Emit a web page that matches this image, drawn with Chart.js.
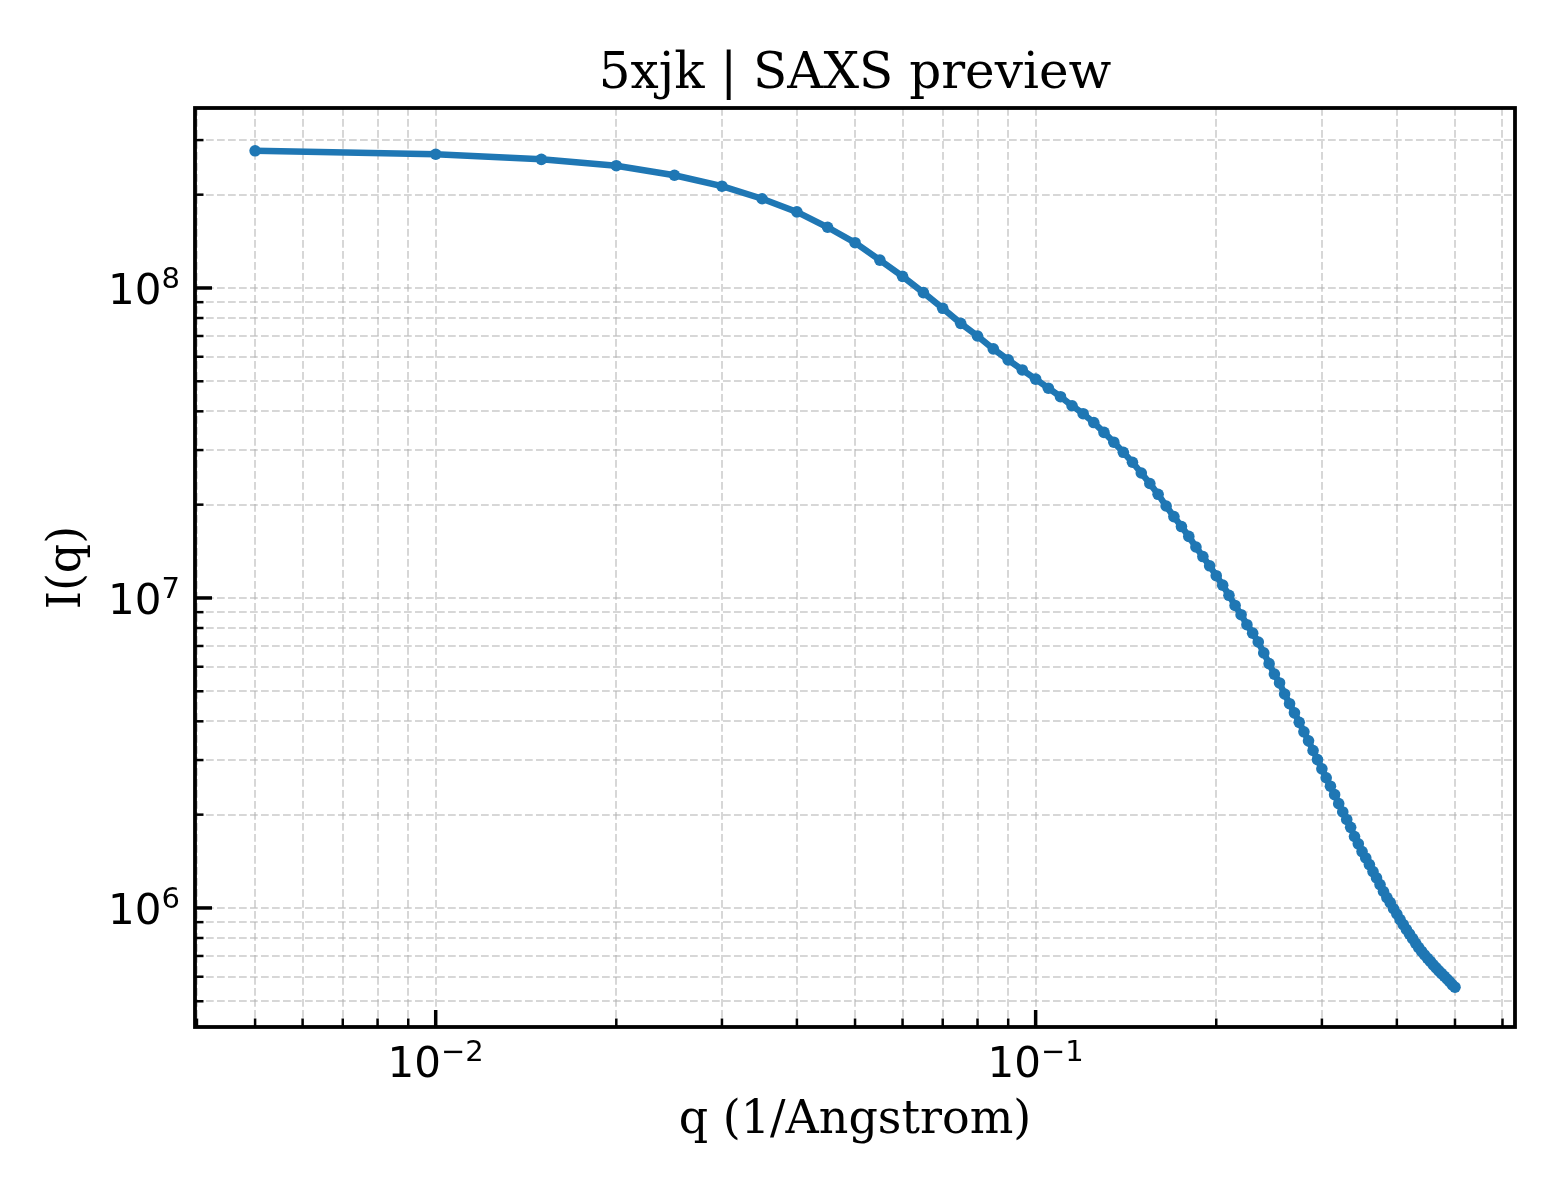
<!DOCTYPE html>
<html>
<head>
<meta charset="utf-8">
<script src="https://cdn.jsdelivr.net/npm/chart.js@4.4.0/dist/chart.umd.min.js"></script>
<style>
  html, body { margin: 0; padding: 0; background: #fff; }
  #wrap { width: 1560px; height: 1200px; }
</style>
</head>
<body>
<div id="wrap"><canvas id="saxsChart" width="1560" height="1200"></canvas></div>
<script>
// ===== SAXS preview (5xjk) =====

const qValues = [
  0.005, 0.010, 0.015, 0.020, 0.025, 0.030, 0.035, 0.040, 0.045, 0.050,
  0.055, 0.060, 0.065, 0.070, 0.075, 0.080, 0.085, 0.090, 0.095, 0.100,
  0.105, 0.110, 0.115, 0.120, 0.125, 0.130, 0.135, 0.140, 0.145, 0.150,
  0.155, 0.160, 0.165, 0.170, 0.175, 0.180, 0.185, 0.190, 0.195, 0.200,
  0.205, 0.210, 0.215, 0.220, 0.225, 0.230, 0.235, 0.240, 0.245, 0.250,
  0.255, 0.260, 0.265, 0.270, 0.275, 0.280, 0.285, 0.290, 0.295, 0.300,
  0.305, 0.310, 0.315, 0.320, 0.325, 0.330, 0.335, 0.340, 0.345, 0.350,
  0.355, 0.360, 0.365, 0.370, 0.375, 0.380, 0.385, 0.390, 0.395, 0.400,
  0.405, 0.410, 0.415, 0.420, 0.425, 0.430, 0.435, 0.440, 0.445, 0.450,
  0.455, 0.460, 0.465, 0.470, 0.475, 0.480, 0.485, 0.490, 0.495, 0.500
];

const intensity = [
  2.77e8, 2.70e8, 2.60e8, 2.48e8, 2.31e8, 2.13e8, 1.94e8, 1.76e8, 1.57e8, 1.40e8,
  1.23e8, 1.09e8, 9.66e7, 8.60e7, 7.69e7, 7.00e7, 6.36e7, 5.86e7, 5.44e7, 5.08e7,
  4.75e7, 4.46e7, 4.17e7, 3.93e7, 3.68e7, 3.42e7, 3.18e7, 2.95e7, 2.74e7, 2.53e7,
  2.34e7, 2.16e7, 1.98e7, 1.83e7, 1.70e7, 1.58e7, 1.46e7, 1.36e7, 1.27e7, 1.18e7,
  1.10e7, 1.02e7, 9.46e6, 8.83e6, 8.20e6, 7.70e6, 7.21e6, 6.65e6, 6.14e6, 5.68e6,
  5.32e6, 4.90e6, 4.56e6, 4.26e6, 3.97e6, 3.70e6, 3.46e6, 3.22e6, 3.01e6, 2.81e6,
  2.63e6, 2.47e6, 2.32e6, 2.17e6, 2.04e6, 1.93e6, 1.82e6, 1.70e6, 1.61e6, 1.52e6,
  1.45e6, 1.38e6, 1.31e6, 1.25e6, 1.19e6, 1.13e6, 1.08e6, 1.04e6, 9.94e5, 9.56e5,
  9.17e5, 8.84e5, 8.52e5, 8.23e5, 7.96e5, 7.69e5, 7.45e5, 7.24e5, 7.05e5, 6.88e5,
  6.72e5, 6.55e5, 6.41e5, 6.27e5, 6.14e5, 6.02e5, 5.90e5, 5.78e5, 5.65e5, 5.55e5
];

const xMajorTicks = [0.01, 0.1];
const xTickExps = ['\u22122', '\u22121'];
const yMajorTicks = [1e6, 1e7, 1e8];
const yTickExps = ['6', '7', '8'];

const xRange = [0.00397, 0.6295];
const yRange = [4.13e5, 3.807e8];

const titleText = '5xjk | SAXS preview';
const xLabel = 'q (1/Angstrom)';
const yLabel = 'I(q)';

const SERIF = '"DejaVu Serif", "Liberation Serif", serif';
const SANS = '"DejaVu Sans", sans-serif';

// log ticks: majors from the list, minors at 2..9 of each decade inside the range
function logTicks(min, max, majors) {
  const out = [];
  for (let e = Math.floor(Math.log10(min)); e <= Math.ceil(Math.log10(max)); e++) {
    for (let m = 1; m <= 9; m++) {
      const v = m * Math.pow(10, e);
      if (v < min || v > max) continue;
      out.push({ value: v, major: m === 1 && majors.some(t => Math.abs(t - v) / v < 1e-9) });
    }
  }
  return out;
}

function drawPow(ctx, base, exp, x, baseline, align) {
  ctx.font = '42px ' + SANS;
  const wb = ctx.measureText(base).width;
  ctx.font = '29px ' + SANS;
  const we = ctx.measureText(exp).width;
  let x0 = align === 'right' ? x - wb - we : x - (wb + we) / 2;
  ctx.textAlign = 'left';
  ctx.textBaseline = 'alphabetic';
  ctx.font = '42px ' + SANS;
  ctx.fillText(base, x0, baseline);
  ctx.font = '29px ' + SANS;
  ctx.fillText(exp, x0 + wb, baseline - 16);
}

const axisDecor = {
  id: 'axisDecor',
  afterDraw(chart) {
    const { ctx, chartArea: a, scales } = chart;
    const xs = scales.x, ys = scales.y;
    ctx.save();
    ctx.strokeStyle = '#000';
    ctx.fillStyle = '#000';

    // inward ticks, bottom and left only
    xs.ticks.forEach(t => {
      const px = xs.getPixelForValue(t.value);
      ctx.lineWidth = t.major ? 3.5 : 2.5;
      ctx.beginPath();
      ctx.moveTo(px, a.bottom);
      ctx.lineTo(px, a.bottom - (t.major ? 17 : 8.5));
      ctx.stroke();
    });
    ys.ticks.forEach(t => {
      const py = ys.getPixelForValue(t.value);
      ctx.lineWidth = t.major ? 3.5 : 2.5;
      ctx.beginPath();
      ctx.moveTo(a.left, py);
      ctx.lineTo(a.left + (t.major ? 17 : 8.5), py);
      ctx.stroke();
    });

    ctx.lineWidth = 3.8;
    ctx.strokeRect(a.left, a.top, a.right - a.left, a.bottom - a.top);

    // tick labels
    xMajorTicks.forEach((v, i) => {
      drawPow(ctx, '10', xTickExps[i], xs.getPixelForValue(v), a.bottom + 50, 'center');
    });
    yMajorTicks.forEach((v, i) => {
      drawPow(ctx, '10', yTickExps[i], a.left - 15, ys.getPixelForValue(v) + 16, 'right');
    });

    // title
    ctx.font = '50px ' + SERIF;
    ctx.textAlign = 'center';
    ctx.textBaseline = 'alphabetic';
    ctx.fillText(titleText, (a.left + a.right) / 2, 88);
    ctx.restore();
  }
};

const gridStyle = { color: 'rgba(176,176,176,0.5)', lineWidth: 2, drawTicks: false };

new Chart(document.getElementById('saxsChart'), {
  type: 'line',
  data: {
    datasets: [{
      data: qValues.map((q, i) => ({ x: q, y: intensity[i] })),
      borderColor: '#1f77b4',
      backgroundColor: '#1f77b4',
      borderWidth: 6.5,
      pointRadius: 5.8,
      pointBorderWidth: 0,
      pointHoverRadius: 5.8,
      tension: 0,
      fill: false
    }]
  },
  options: {
    responsive: false,
    animation: false,
    devicePixelRatio: 1,
    layout: { padding: { top: 108, right: 45, left: 0, bottom: 0 } },
    plugins: { legend: { display: false }, tooltip: { enabled: false }, title: { display: false } },
    scales: {
      x: {
        type: 'logarithmic',
        min: xRange[0], max: xRange[1],
        afterBuildTicks: s => { s.ticks = logTicks(xRange[0], xRange[1], xMajorTicks); },
        afterFit: s => { s.height = 173; },
        ticks: { display: false },
        grid: gridStyle,
        border: { display: false, dash: [7.7, 3.3] },
        title: {
          display: true, text: xLabel, color: '#000',
          font: { family: SERIF, size: 46, lineHeight: 1.2 },
          padding: { top: 0, bottom: 51 }
        }
      },
      y: {
        type: 'logarithmic',
        min: yRange[0], max: yRange[1],
        afterBuildTicks: s => { s.ticks = logTicks(yRange[0], yRange[1], yMajorTicks); },
        afterFit: s => { s.width = 195; },
        ticks: { display: false },
        grid: gridStyle,
        border: { display: false, dash: [7.7, 3.3] },
        title: {
          display: true, text: yLabel, color: '#000',
          font: { family: SERIF, size: 46, lineHeight: 1.2 },
          padding: { top: 40, bottom: 0 }
        }
      }
    }
  },
  plugins: [axisDecor]
});
</script>
</body>
</html>
